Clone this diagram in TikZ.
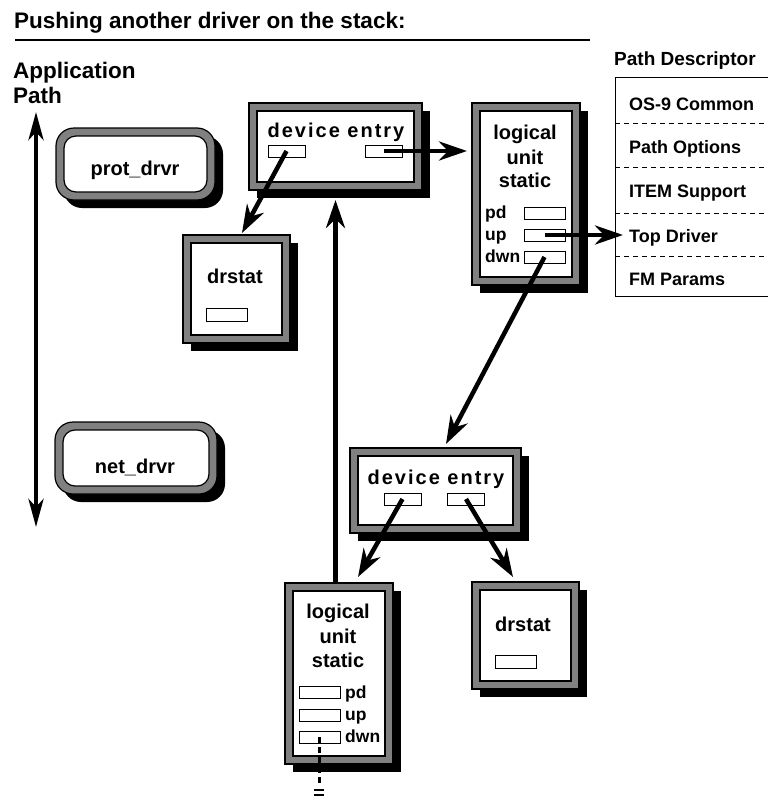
\documentclass[tikz,border=0pt]{standalone}
\usepackage{fontspec}
\setmainfont{Liberation Sans}
\usetikzlibrary{arrows.meta}
\definecolor{bandgrey}{gray}{0.5}

% framed panel: shadow, grey band, white interior; #1 name, #2..#5 outer edge (left, top, right, bottom)
\newcommand\panel[5]{%
  \fill[black] (#2+8,#3+8) rectangle (#4+8,#5+8);
  \draw[outline, fill=bandgrey] (#2,#3) rectangle (#4,#5);
  \draw[outline, fill=white] (#2+8,#3+8) rectangle (#4-8,#5-8);
  \node[anchorbox, minimum width={(#4-#2)*1pt}, minimum height={(#5-#3)*1pt}] (#1) at ({(#2+#4)/2},{(#3+#5)/2}) {};
}
% the same with rounded corners
\newcommand\roundpanel[5]{%
  \fill[black, rounded corners=18pt] (#2+8,#3+8) rectangle (#4+8,#5+8);
  \draw[outline, fill=bandgrey, rounded corners=18pt] (#2,#3) rectangle (#4,#5);
  \draw[outline, fill=white, rounded corners=12pt] (#2+8,#3+8) rectangle (#4-8,#5-8);
  \node[anchorbox, minimum width={(#4-#2)*1pt}, minimum height={(#5-#3)*1pt}] (#1) at ({(#2+#4)/2},{(#3+#5)/2}) {};
}

\tikzset{
  outline/.style={draw=black, line width=1.2pt},
  anchorbox/.style={inner sep=0pt, outer sep=0pt},
  titletext/.style={font=\fontsize{22.5}{27}\selectfont\bfseries, inner sep=0pt},
  boxlabel/.style={font=\fontsize{20}{24}\selectfont\bfseries, inner sep=0pt},
  fieldlabel/.style={font=\fontsize{17.5}{21}\selectfont\bfseries, inner sep=0pt},
  pdhead/.style={font=\fontsize{19}{23}\selectfont\bfseries, inner sep=0pt},
  pdrow/.style={font=\fontsize{18}{22}\selectfont\bfseries, inner sep=0pt},
  field/.style={draw=black, line width=1pt, fill=white, minimum width=41pt, minimum height=12pt, inner sep=0pt, outer sep=0pt},
  arr/.style={line width=4.5pt, -{Stealth[length=28pt,width=19pt,inset=9pt]}},
  pddash/.style={line width=1pt, dash pattern=on 5pt off 4pt},
}

\begin{document}
\begin{tikzpicture}[x=1pt, y=-1pt]
\useasboundingbox (0,0) rectangle (768,798);
\clip (0,0) rectangle (768,798);

% heading
\node[titletext, anchor=base west] (title) at (14,28) {Pushing another driver on the stack:};
\draw[line width=1.3pt] (15,40) -- (590,40);

% application path
\node[titletext, anchor=base west] (app) at (13,78) {Application};
\node[titletext, anchor=base west] (apppath) at (13,103) {Path};
\coordinate (apTop) at (36,112);
\coordinate (apBot) at (36,527);
\draw[line width=4.5pt, {Stealth[length=28pt,width=15pt,inset=8pt]}-{Stealth[length=28pt,width=15pt,inset=8pt]}] (apTop) -- (apBot);

% driver stack
\roundpanel{prot}{56}{128}{215}{200}
\node[boxlabel, anchor=base] (protlbl) at (135,175) {prot\_drvr};
\roundpanel{net}{55}{422}{217}{494}
\node[boxlabel, anchor=base] (netlbl) at (135,473) {net\_drvr};

% upper device entry
\panel{de1}{249}{103}{422}{190}
\node[boxlabel, anchor=base] (de1lbl) at (336,137) {\addfontfeatures{LetterSpace=10}device entry};
\node[field, minimum width=37pt] (f1) at (286.5,151) {};
\node[field, minimum width=37pt] (f2) at (383.5,151) {};

% upper drstat
\panel{ds1}{183}{235}{290}{343}
\node[boxlabel, anchor=base] (ds1lbl) at (235,283) {drstat};
\node[field, minimum height=13pt] (s1) at (226.5,314.5) {};

% upper logical unit static
\panel{lu1}{472}{103}{580}{285}
\node[boxlabel, anchor=base] (lu1a) at (525,139) {logical};
\node[boxlabel, anchor=base] (lu1b) at (525,164) {unit};
\node[boxlabel, anchor=base] (lu1c) at (525,187) {static};
\node[fieldlabel, anchor=base west] (lu1pdl) at (485,218) {pd};
\node[fieldlabel, anchor=base west] (lu1upl) at (485,240) {up};
\node[fieldlabel, anchor=base west] (lu1dnl) at (485,262) {dwn};
\node[field] (lu1pd) at (544.5,213) {};
\node[field] (lu1up) at (544.5,235) {};
\node[field] (lu1dn) at (544.5,257) {};

% path descriptor
\node[pdhead, anchor=base west] (pdtitle) at (614,65) {Path Descriptor};
\node[draw=black, line width=1.2pt, minimum width=200pt, minimum height=219pt, inner sep=0pt, anchor=north west] (pdbox) at (615,77) {};
\draw[pddash] (615,123) -- (768,123);
\draw[pddash] (615,167) -- (768,167);
\draw[pddash] (615,213) -- (768,213);
\draw[pddash] (615,256) -- (768,256);
\node[pdrow, anchor=base west] (r1) at (629,110) {OS-9 Common};
\node[pdrow, anchor=base west] (r2) at (629,153) {Path Options};
\node[pdrow, anchor=base west] (r3) at (629,197) {ITEM Support};
\node[pdrow, anchor=base west] (r4) at (629,242) {Top Driver};
\node[pdrow, anchor=base west] (r5) at (629,285) {FM Params};

% lower device entry
\panel{de2}{350}{448}{521}{533}
\node[boxlabel, anchor=base] (de2lbl) at (436,484) {\addfontfeatures{LetterSpace=10}device entry};
\node[field, minimum width=37pt] (f3) at (402.5,499) {};
\node[field, minimum width=37pt] (f4) at (466,499) {};

% lower logical unit static
\panel{lu2}{285}{583}{393}{764}
\node[boxlabel, anchor=base] (lu2a) at (338,618) {logical};
\node[boxlabel, anchor=base] (lu2b) at (338,643) {unit};
\node[boxlabel, anchor=base] (lu2c) at (338,667) {static};
\node[field] (lu2pd) at (319.5,692.5) {};
\node[field] (lu2up) at (319.5,715) {};
\node[field] (lu2dn) at (319.5,737) {};
\node[fieldlabel, anchor=base west] (lu2pdl) at (345,698) {pd};
\node[fieldlabel, anchor=base west] (lu2upl) at (345,720) {up};
\node[fieldlabel, anchor=base west] (lu2dnl) at (345,742) {dwn};

% lower drstat
\panel{ds2}{472}{582}{579}{689}
\node[boxlabel, anchor=base] (ds2lbl) at (523,631) {drstat};
\node[field, minimum height=13pt] (s2) at (515.5,661.5) {};

% pointers
\draw[arr] (f1.center) -- ([xshift=5.5pt,yshift=2pt]ds1.north);
\draw[arr, shorten >=5pt] (f2.center) -- (f2.center -| lu1.west);
\draw[arr, shorten >=-8pt] (lu1up.center) -- (lu1up.center -| pdbox.west);
\draw[arr] (lu1dn.center) -- ([xshift=10.5pt,yshift=4pt]de2.north);
\draw[arr] (f3.center) -- ([xshift=19pt,yshift=6pt]lu2.north);
\draw[arr] (f4.center) -- ([xshift=-12.5pt,yshift=5pt]ds2.north);
\draw[arr, shorten >=10pt] (lu2.north -| de1.south) -- (de1.south);

% continuation below the lower unit
\coordinate (brk) at (319.5,786);
\draw[line width=3.5pt, dash pattern=on 6pt off 4pt] (lu2dn.center) -- (brk);
\draw[line width=2pt] (314,790) -- (324,790);
\draw[line width=2pt] (314,795) -- (324,795);
\end{tikzpicture}
\end{document}
